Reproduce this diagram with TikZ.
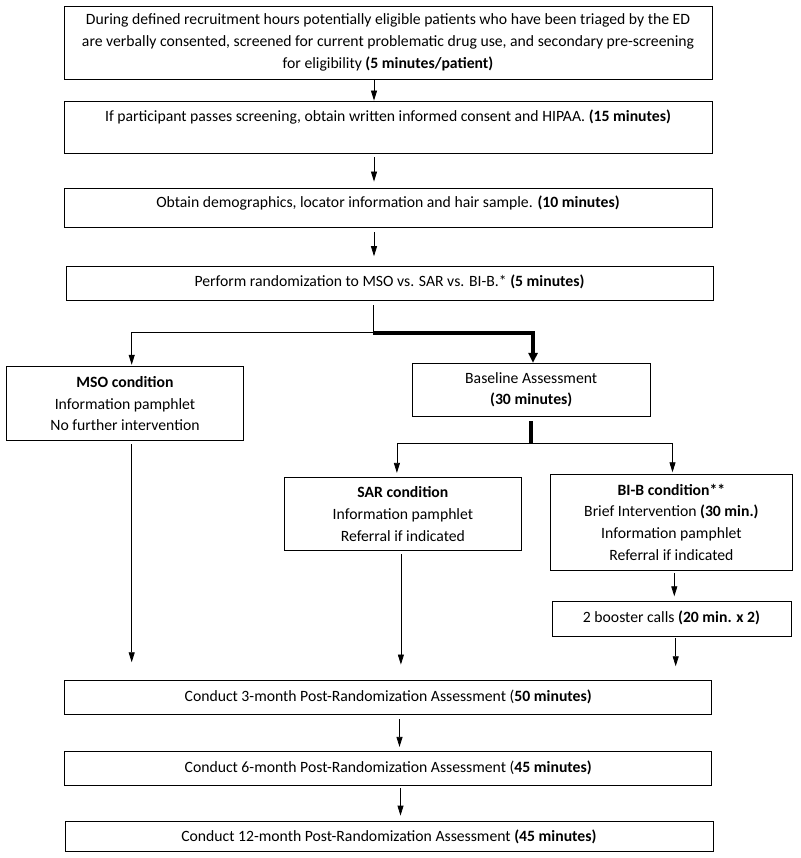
\documentclass[tikz,border=0pt]{standalone}
\usepackage{fontspec}
\setmainfont{Carlito}
\usetikzlibrary{arrows.meta,positioning}

\begin{document}
\begin{tikzpicture}[x=1pt,y=-1pt,
	font=\fontsize{15.7}{21.7}\selectfont,
	stage/.style={draw,line width=0.8pt,inner sep=0pt,align=center},
	oneline/.style={stage,text height=10pt},
	link/.style={line width=0.8pt},
	arr/.style={link,-{Triangle[length=10pt,width=6pt]}},
	heavy/.style={line width=3.6pt},
	heavyarr/.style={heavy,-{Triangle[length=10pt,width=9pt]}}]
	\useasboundingbox (0,0) rectangle (800,858);

	% screening and randomization
	\node[stage,minimum width=648pt,minimum height=73pt] (screen) at (388,42.5) {During defined recruitment hours potentially eligible patients who have been triaged by the ED\\are verbally consented, screened for current problematic drug use, and secondary pre-screening\\for eligibility \textbf{(5 minutes/patient)}};
	\node[oneline,text depth=21pt,minimum width=648pt,minimum height=52pt] (consent) at (388,127) {If participant passes screening, obtain written informed consent and HIPAA. \textbf{(15 minutes)}};
	\node[oneline,text depth=10pt,minimum width=648pt,minimum height=39pt] (demo) at (388,207.5) {Obtain demographics, locator information and hair sample. \textbf{(10 minutes)}};
	\node[oneline,text depth=4pt,minimum width=647pt,minimum height=33.3pt] (random) at (389.5,283.3) {Perform randomization to MSO vs. SAR vs. BI-B.* \textbf{(5 minutes)}};

	% conditions
	\node[stage,minimum width=237.4pt,minimum height=74pt] (mso) at (125,403.7) {\textbf{MSO condition}\\Information pamphlet\\No further intervention};
	\node[stage,minimum width=237.7pt,minimum height=52.7pt] (base) at (531.2,389.7) {Baseline Assessment\\\textbf{(30 minutes)}};
	\node[stage,minimum width=237.7pt,minimum height=73.4pt] (sar) at (402.9,514) {\textbf{SAR condition}\\Information pamphlet\\Referral if indicated};
	\node[stage,minimum width=242.7pt,minimum height=96pt] (bib) at (671.4,522) {\textbf{BI-B condition**}\\Brief Intervention \textbf{(30 min.)}\\Information pamphlet\\Referral if indicated};
	\node[oneline,text depth=3pt,minimum width=239pt,minimum height=35pt] (booster) at (671.5,619.2) {2 booster calls \textbf{(20 min. x 2)}};

	% follow-up
	\node[oneline,text depth=2pt,minimum width=647pt,minimum height=33.3pt] (m3) at (388.2,697.3) {Conduct 3-month Post-Randomization Assessment (\textbf{50 minutes)}};
	\node[oneline,text depth=3pt,minimum width=647pt,minimum height=34pt] (m6) at (388.2,768.7) {Conduct 6-month Post-Randomization Assessment (\textbf{45 minutes)}};
	\node[oneline,text depth=0pt,minimum width=648pt,minimum height=30pt] (m12) at (388.9,836.7) {Conduct 12-month Post-Randomization Assessment \textbf{(45 minutes)}};

	\coordinate (spine) at (374,0);
	\coordinate (split) at (373.3,332.7);
	\coordinate (msoin) at (131.7,0);
	\coordinate (fork) at (531,443);

	\draw[arr] (screen.south -| spine) -- (consent.north -| spine);
	\draw[arr,shorten <=3.7pt,shorten >=6pt] (consent.south -| spine) -- (demo.north -| spine);
	\draw[arr,shorten <=4.7pt,shorten >=10pt] (demo.south -| spine) -- (random.north -| spine);

	\draw[link,shorten <=5pt] (random.south -| split) -- (split);
	\draw[arr,shorten >=1.5pt] (split) -| (mso.north -| msoin);
	\draw[heavyarr] (split) -| ([xshift=1.8pt]base.north);

	\draw[heavy,shorten <=5pt] (base.south) -- (base.south |- fork);
	\draw[arr,shorten >=4pt] (fork) -| ([xshift=-6pt]sar.north);
	\draw[arr,shorten >=1.3pt] (fork) -| ([xshift=1.1pt]bib.north);

	\draw[arr,shorten <=3.3pt,shorten >=18pt] (mso.south -| msoin) -- (m3.north -| msoin);
	\draw[arr,shorten <=3.3pt,shorten >=15.7pt] ([xshift=-2pt]sar.south) -- ([xshift=-2pt]sar.south |- m3.north);
	\draw[arr,shorten <=2.7pt,shorten >=5pt] ([xshift=2.9pt]bib.south) -- ([xshift=2.9pt]bib.south |- booster.north);
	\draw[arr,shorten <=1.3pt,shorten >=14pt] ([xshift=4.2pt]booster.south) -- ([xshift=4.2pt]booster.south |- m3.north);

	\draw[arr,shorten <=5pt,shorten >=4.4pt] ([xshift=11.3pt]m3.south) -- ([xshift=11.3pt]m3.south |- m6.north);
	\draw[arr,shorten <=2.3pt,shorten >=5.7pt] ([xshift=12.3pt]m6.south) -- ([xshift=12.3pt]m6.south |- m12.north);
\end{tikzpicture}
\end{document}
